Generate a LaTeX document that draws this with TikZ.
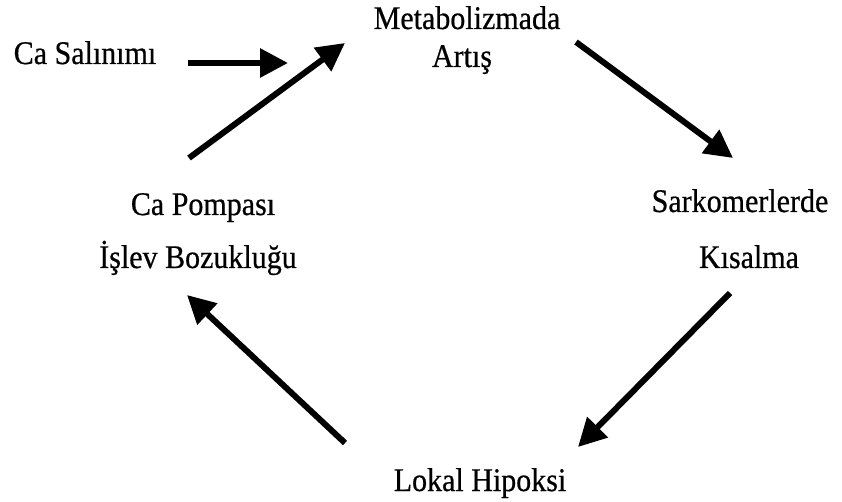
\documentclass[tikz,border=0pt]{standalone}
\usepackage{fontspec}
\setmainfont[FakeBold=0.6]{Liberation Serif}
\usetikzlibrary{arrows.meta}
\newcommand{\vtxt}[1]{\scalebox{1}[1.1]{#1}}
\begin{document}
\begin{tikzpicture}[x=1pt,y=-1pt,
  lbl/.style={anchor=base,inner sep=0pt,font=\fontsize{30}{36}\selectfont},
  arr/.style={line width=6pt,-{Triangle[length=28pt,width=28pt]}}]
\useasboundingbox (0,0) rectangle (842,502);
% texts
\node[lbl] (meta1) at (467,29) {\vtxt{Metabolizmada}};
\node[lbl] (meta2) at (462,67) {\vtxt{Artış}};
\node[lbl] (casal) at (85,64) {\vtxt{Ca Salınımı}};
\node[lbl] (pomp1) at (203,215) {\vtxt{Ca Pompası}};
\node[lbl] (pomp2) at (198,268) {\vtxt{İşlev Bozukluğu}};
\node[lbl] (sark1) at (740,212) {\vtxt{Sarkomerlerde}};
\node[lbl] (sark2) at (749,268) {\vtxt{Kısalma}};
\node[lbl] (lokal) at (480,491) {\vtxt{Lokal Hipoksi}};
% arrow ends
\coordinate (casalE) at (188,63);
\coordinate (metaIn) at (288,63);
\coordinate (pompOut) at (189,158);
\coordinate (metaIn2) at (345,43);
\coordinate (metaOut) at (576,42);
\coordinate (sarkIn) at (733,158);
\coordinate (sarkOut) at (730,293);
\coordinate (lokalIn) at (578,447);
\coordinate (lokalOut) at (345,443);
\coordinate (pompIn) at (187,295);
% arrows
\draw[arr] (casalE) -- (metaIn);
\draw[arr] (pompOut) -- (metaIn2);
\draw[arr] (metaOut) -- (sarkIn);
\draw[arr] (sarkOut) -- (lokalIn);
\draw[arr] (lokalOut) -- (pompIn);
\end{tikzpicture}
\end{document}
